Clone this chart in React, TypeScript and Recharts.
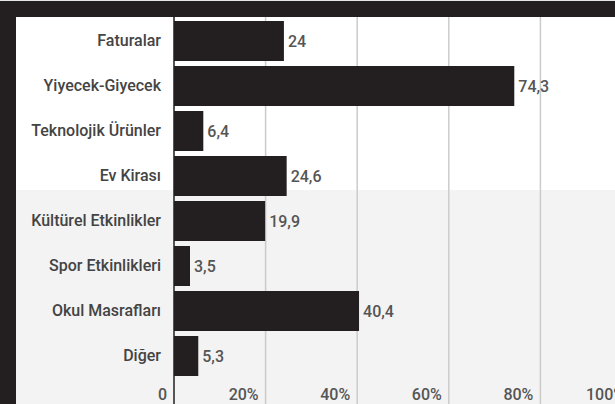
import { BarChart, Bar, XAxis, YAxis, CartesianGrid, LabelList } from 'recharts';

const categories = ['Faturalar', 'Yiyecek-Giyecek', 'Teknolojik Ürünler', 'Ev Kirası', 'Kültürel Etkinlikler', 'Spor Etkinlikleri', 'Okul Masrafları', 'Diğer'];
const values = [24, 74.3, 6.4, 24.6, 19.9, 3.5, 40.4, 5.3];
const xTicks = [0, 20, 40, 60, 80, 100];
const xTickLabels = ['0', '20%', '40%', '60%', '80%', '100%'];

const data = categories.map((name, i) => ({ name, value: values[i] }));

const FONT = 'Roboto, sans-serif';
const DARK = '#231f20';

// grid lines run past the plot, down to the bottom edge; the first one is the axis
function GridLine(props: any) {
  const { x1, x2, y1, y2, index } = props;
  const isAxis = index === 0;
  return (
    <line
      x1={x1}
      x2={x2}
      y1={y1 - 1}
      y2={y2 + 26}
      stroke={isAxis ? '#555' : '#cbcbcb'}
      strokeWidth={isAxis ? 2 : 1.5}
    />
  );
}

function XTick(props: any) {
  const { x, y, payload } = props;
  const idx = xTicks.indexOf(payload.value);
  return (
    <text x={x - 7} y={y} dy="0.71em" textAnchor="end" fill="#555" fontSize={16} fontWeight={500} fontFamily={FONT}>
      {xTickLabels[idx]}
    </text>
  );
}

export default function App() {
  return (
    <div style={{ position: 'absolute', left: 0, top: 0, width: 615, height: 404, overflow: 'hidden', background: DARK }}>
      <div style={{ position: 'absolute', left: 0, top: 0, width: 615, height: 1, background: '#e6e6e6' }} />
      <div
        style={{
          position: 'absolute',
          left: 16,
          top: 17,
          width: 700,
          height: 387,
          background: 'linear-gradient(to bottom, #ffffff 0px, #ffffff 173px, #f3f3f3 173px, #f3f3f3 100%)',
        }}
      />
      <div style={{ position: 'absolute', left: 0, top: 0 }}>
        <BarChart
          width={680}
          height={404}
          data={data}
          layout="vertical"
          margin={{ top: 18, right: 48, bottom: 0, left: 0 }}
          barSize={40}
        >
          <CartesianGrid horizontal={false} vertical={GridLine} />
          <XAxis
            type="number"
            domain={[0, 100]}
            ticks={xTicks}
            height={26}
            axisLine={false}
            tickLine={false}
            tickSize={6}
            tickMargin={5}
            tick={<XTick />}
            interval={0}
          />
          <YAxis
            type="category"
            dataKey="name"
            width={174}
            axisLine={false}
            tickLine={false}
            tickSize={6}
            tickMargin={7}
            interval={0}
            tick={{ fill: '#444', fontSize: 16, fontWeight: 500, fontFamily: FONT }}
          />
          <Bar dataKey="value" fill={DARK} isAnimationActive={false}>
            <LabelList
              dataKey="value"
              position="right"
              offset={4}
              formatter={(v: any) => String(v).replace('.', ',')}
              style={{ fill: '#555', fontSize: 16, fontWeight: 500, fontFamily: FONT }}
            />
          </Bar>
        </BarChart>
      </div>
    </div>
  );
}
